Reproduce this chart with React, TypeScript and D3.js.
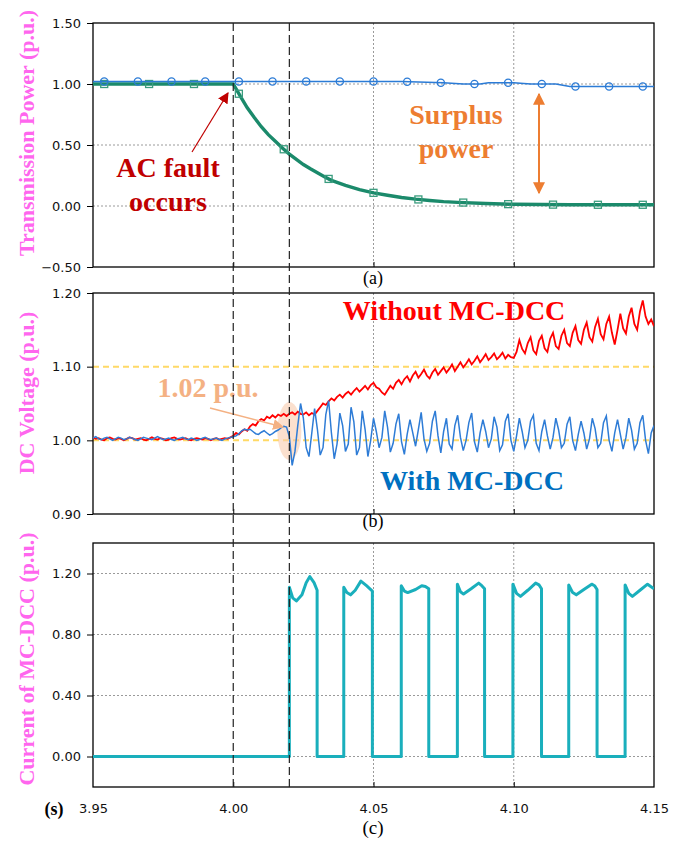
import React, { useEffect, useRef } from 'react';
import * as d3 from 'd3';

// x axis (time, s)
const xTicks = [3.95, 4.0, 4.05, 4.1, 4.15];
const gridTimes = [4.05, 4.1];
const faultTimes = [4.0, 4.02];

// panel (a) transmission power
const powerTicks = [1.5, 1.0, 0.5, 0.0, -0.5];
const powerGrid = [1.0, 0.5, 0.0];
const withPowerT = [3.95, 4.06, 4.075, 4.082, 4.088, 4.091, 4.1, 4.106, 4.115, 4.12, 4.15];
const withPowerV = [1.02, 1.02, 1.01, 1.0, 1.0, 1.01, 1.01, 1.0, 1.0, 0.98, 0.98];
const withoutPowerT = [3.95, 4.0, 4.0025, 4.005, 4.0075, 4.01, 4.0125, 4.015, 4.0175, 4.02, 4.0225, 4.025, 4.0275, 4.03, 4.0325, 4.035, 4.0375, 4.04, 4.045, 4.05, 4.055, 4.06, 4.065, 4.07, 4.075, 4.08, 4.09, 4.1, 4.12, 4.15];
const withoutPowerV = [1.0, 1.0, 0.9, 0.805, 0.725, 0.65, 0.585, 0.53, 0.475, 0.425, 0.382, 0.34, 0.305, 0.272, 0.24, 0.21, 0.19, 0.17, 0.135, 0.108, 0.088, 0.07, 0.056, 0.045, 0.036, 0.03, 0.02, 0.014, 0.01, 0.01];
const circleMarkT = [3.954, 3.966, 3.978, 3.99, 4.002, 4.014, 4.026, 4.038, 4.05, 4.062, 4.074, 4.086, 4.098, 4.11, 4.122, 4.134, 4.146];
const squareMarkT = [3.954, 3.97, 3.986, 4.002, 4.018, 4.034, 4.05, 4.066, 4.082, 4.098, 4.114, 4.13, 4.146];

// panel (b) DC voltage, sampled every 1 ms from 3.950 s
const voltageTicks = [1.2, 1.1, 1.0, 0.9];
const voltageRef = [1.1, 1.0];
const dcStart = 3.95;
const dcStep = 0.001;
const withoutDC = [
  1.004, 1.002, 1.003, 1.001, 1.0, 1.003, 1.004, 1.002, 1.001, 1.003,
  1.002, 1.0, 1.002, 1.004, 1.003, 1.001, 1.002, 1.003, 1.001, 1.0,
  1.002, 1.004, 1.002, 1.001, 1.003, 1.002, 1.0, 1.001, 1.003, 1.004,
  1.002, 1.001, 1.002, 1.003, 1.001, 1.0, 1.002, 1.003, 1.002, 1.001,
  1.003, 1.002, 1.0, 1.002, 1.003, 1.001, 1.002, 1.003, 1.002, 1.004,
  1.006, 1.01, 1.008, 1.012, 1.015, 1.013, 1.019, 1.022, 1.02, 1.026,
  1.029, 1.027, 1.032, 1.03, 1.034, 1.031, 1.035, 1.033, 1.036, 1.033,
  1.036, 1.038, 1.035, 1.039, 1.036, 1.035, 1.038, 1.034, 1.037, 1.035,
  1.04, 1.045, 1.05, 1.048, 1.053, 1.057, 1.054, 1.059, 1.062, 1.058,
  1.063, 1.066, 1.062, 1.067, 1.071, 1.066, 1.07, 1.074, 1.069, 1.075,
  1.078, 1.072, 1.07, 1.065, 1.062, 1.068, 1.074, 1.07, 1.078, 1.082,
  1.076, 1.083, 1.087, 1.08, 1.088, 1.093, 1.085, 1.09, 1.096, 1.088,
  1.084, 1.092, 1.097, 1.089, 1.094, 1.099, 1.092, 1.097, 1.103, 1.094,
  1.1, 1.106, 1.099, 1.104, 1.11, 1.103, 1.108, 1.114, 1.106, 1.111,
  1.117, 1.109, 1.113, 1.118, 1.11, 1.114, 1.119, 1.111, 1.116, 1.113,
  1.112, 1.12, 1.136, 1.124, 1.118, 1.132, 1.14, 1.122, 1.117, 1.135,
  1.142, 1.125, 1.12, 1.138, 1.146, 1.128, 1.124, 1.142, 1.15, 1.132,
  1.128, 1.146, 1.155, 1.136, 1.131, 1.15, 1.16, 1.14, 1.134, 1.154,
  1.165, 1.144, 1.137, 1.158, 1.168, 1.146, 1.13, 1.15, 1.172, 1.152,
  1.145, 1.168, 1.18, 1.158, 1.15, 1.175, 1.19, 1.168, 1.158, 1.164, 1.155,
];
const withDC = [
  1.003, 1.005, 1.002, 1.001, 1.003, 1.004, 1.002, 1.0, 1.002, 1.004,
  1.003, 1.001, 1.002, 1.004, 1.003, 1.001, 1.0, 1.002, 1.004, 1.003,
  1.002, 1.001, 1.003, 1.005, 1.003, 1.001, 1.002, 1.003, 1.001, 1.0,
  1.002, 1.003, 1.004, 1.002, 1.001, 1.003, 1.002, 1.0, 1.001, 1.003,
  1.004, 1.002, 1.001, 1.002, 1.003, 1.001, 1.0, 1.002, 1.003, 1.004,
  1.005, 1.006, 1.009, 1.013, 1.015, 1.014, 1.015, 1.012, 1.009, 1.008,
  1.011, 1.013, 1.01, 1.007, 1.009, 1.012, 1.014, 1.017, 1.019, 1.018,
  1.005, 0.966, 0.985, 1.02, 1.05, 1.03, 0.99, 0.978, 1.01, 1.043,
  1.015, 0.98, 0.99, 1.035, 1.054, 1.01, 0.975, 0.995, 1.037, 1.02,
  0.985, 0.995, 1.045, 1.025, 0.98, 0.99, 1.04, 1.015, 0.978, 1.0,
  1.03, 1.012, 0.99, 1.004, 1.04, 1.018, 0.984, 0.996, 1.022, 1.036,
  0.998, 0.981, 1.008, 1.028, 1.01, 0.992, 1.015, 1.038, 1.002, 0.985,
  0.996, 1.026, 1.04, 1.006, 0.983, 1.012, 1.03, 0.995, 0.988, 1.02,
  1.034, 1.004, 0.986, 1.0, 1.024, 1.037, 0.998, 0.984, 1.01, 1.028,
  1.012, 0.99, 1.002, 1.032, 1.018, 0.986, 0.994, 1.026, 1.036, 1.0,
  0.985, 1.006, 1.03, 1.012, 0.99, 1.0, 1.026, 1.034, 0.996, 0.986,
  1.012, 1.028, 1.006, 0.988, 1.004, 1.03, 1.014, 0.99, 0.996, 1.022,
  1.032, 1.0, 0.986, 1.008, 1.026, 1.01, 0.988, 1.002, 1.03, 1.016,
  0.99, 0.996, 1.024, 1.033, 1.0, 0.985, 1.01, 1.028, 1.008, 0.988,
  1.004, 1.03, 1.014, 0.988, 0.996, 1.024, 1.034, 1.0, 0.982, 1.01, 1.02,
];

// panel (c) MC-DCC current
const currentTicks = [1.2, 0.8, 0.4, 0.0];
const currentT = [
  3.95, 4.02, 4.02, 4.0212, 4.0225, 4.0245, 4.026, 4.0273, 4.0288, 4.0299, 4.0299,
  4.0394, 4.0394, 4.0405, 4.0418, 4.0435, 4.0455, 4.0475, 4.0496, 4.0496,
  4.0599, 4.0599, 4.061, 4.0622, 4.065, 4.0672, 4.0685, 4.0697, 4.0697,
  4.0799, 4.0799, 4.081, 4.0821, 4.0848, 4.0875, 4.0886, 4.0896, 4.0896,
  4.0997, 4.0997, 4.101, 4.1024, 4.105, 4.1078, 4.109, 4.1099, 4.1099,
  4.1196, 4.1196, 4.121, 4.1223, 4.125, 4.1278, 4.1288, 4.1297, 4.1297,
  4.1397, 4.1397, 4.141, 4.1423, 4.145, 4.1477, 4.15,
];
const currentV = [
  0, 0, 1.11, 1.04, 1.02, 1.06, 1.14, 1.18, 1.14, 1.09, 0,
  0, 1.11, 1.075, 1.06, 1.09, 1.15, 1.12, 1.085, 0,
  0, 1.12, 1.085, 1.075, 1.095, 1.12, 1.115, 1.1, 0,
  0, 1.13, 1.08, 1.065, 1.1, 1.137, 1.12, 1.1, 0,
  0, 1.13, 1.07, 1.05, 1.09, 1.137, 1.125, 1.1, 0,
  0, 1.125, 1.075, 1.06, 1.095, 1.13, 1.12, 1.095, 0,
  0, 1.125, 1.07, 1.05, 1.09, 1.13, 1.1,
];

const serif = '"Liberation Serif", "Times New Roman", serif';
const sans = '"DejaVu Sans", Verdana, sans-serif';
const pink = '#FF66EE';

const App = () => {
  const ref = useRef(null);

  useEffect(() => {
    if (!ref.current) return;
    const svg = d3.select(ref.current);
    svg.selectAll('*').remove();

    const left = 93,
      right = 654;
    const x = d3.scaleLinear().domain([3.95, 4.15]).range([left, right]);
    const ya = d3.scaleLinear().domain([-0.5, 1.5]).range([267, 23]);
    const yb = d3.scaleLinear().domain([0.9, 1.2]).range([514, 293]);
    const yc = d3.scaleLinear().domain([-0.2, 1.4]).range([787, 543]);

    const defs = svg.append('defs');
    const arrowHead = (id, color, size) => {
      defs
        .append('marker')
        .attr('id', id)
        .attr('viewBox', '0 0 10 10')
        .attr('refX', 9)
        .attr('refY', 5)
        .attr('markerUnits', 'userSpaceOnUse')
        .attr('markerWidth', size)
        .attr('markerHeight', size)
        .attr('orient', 'auto-start-reverse')
        .append('path')
        .attr('d', 'M0,0L10,5L0,10z')
        .attr('fill', color);
    };
    arrowHead('arrRed', '#C00000', 11);
    arrowHead('arrOrange', '#ED7D31', 12);
    arrowHead('arrPeach', '#F4B183', 11);

    const line = (x1, y1, x2, y2, color, w, dash) => {
      return svg
        .append('line')
        .attr('x1', x1)
        .attr('y1', y1)
        .attr('x2', x2)
        .attr('y2', y2)
        .attr('stroke', color)
        .attr('stroke-width', w)
        .attr('stroke-dasharray', dash || null);
    };

    const text = (tx, ty, str, size, color, bold, family) => {
      return svg
        .append('text')
        .attr('x', tx)
        .attr('y', ty)
        .attr('text-anchor', 'middle')
        .attr('font-family', family || serif)
        .attr('font-size', size)
        .attr('font-weight', bold ? 'bold' : 'normal')
        .attr('fill', color)
        .text(str);
    };

    const panel = (id, y, ticks, hGrid, hColor, hWidth, hDash) => {
      const [bottom, top] = y.range();
      defs
        .append('clipPath')
        .attr('id', id)
        .append('rect')
        .attr('x', left)
        .attr('y', top)
        .attr('width', right - left)
        .attr('height', bottom - top);

      gridTimes.forEach((t) => line(x(t), top, x(t), bottom, '#9a9a9a', 1, '2,2'));
      hGrid.forEach((v) => line(left, y(v), right, y(v), hColor, hWidth, hDash));

      const ax = svg
        .append('g')
        .attr('transform', `translate(${left},0)`)
        .call(d3.axisLeft(y).tickValues(ticks).tickFormat(d3.format('.2f')).tickSize(6).tickPadding(6));
      ax.select('.domain').remove();
      ax.selectAll('text').attr('font-family', sans).attr('font-size', 13).attr('fill', '#111');
      ax.selectAll('line').attr('stroke', '#000');

      const bx = svg
        .append('g')
        .attr('transform', `translate(0,${bottom})`)
        .call(d3.axisBottom(x).tickValues(xTicks.slice(1, 4)).tickSize(-5).tickFormat(() => ''));
      bx.select('.domain').remove();
      bx.selectAll('line').attr('stroke', '#000');

      svg
        .append('rect')
        .attr('x', left)
        .attr('y', top)
        .attr('width', right - left)
        .attr('height', bottom - top)
        .attr('fill', 'none')
        .attr('stroke', '#000')
        .attr('stroke-width', 1.3);
      return svg.append('g').attr('clip-path', `url(#${id})`);
    };

    // ---------- panel (a)
    const ga = panel('clipA', ya, powerTicks, powerGrid, '#9a9a9a', 1, '2,2');
    const greenAt = d3.scaleLinear().domain(withoutPowerT).range(withoutPowerV);
    const blueAt = d3.scaleLinear().domain(withPowerT).range(withPowerV);

    ga.append('path')
      .attr('d', d3.line().x((d, i) => x(withoutPowerT[i])).y((d) => ya(d))(withoutPowerV))
      .attr('fill', 'none')
      .attr('stroke', '#1B8A6B')
      .attr('stroke-width', 3.4);
    ga.selectAll('rect.sq')
      .data(squareMarkT)
      .join('rect')
      .attr('x', (t) => x(t) - 3.5)
      .attr('y', (t) => ya(greenAt(t)) - 3.5)
      .attr('width', 7)
      .attr('height', 7)
      .attr('fill', 'none')
      .attr('stroke', '#3A9C7E')
      .attr('stroke-width', 1.3);

    ga.append('path')
      .attr('d', d3.line().x((d, i) => x(withPowerT[i])).y((d) => ya(d))(withPowerV))
      .attr('fill', 'none')
      .attr('stroke', '#2B7BD6')
      .attr('stroke-width', 1.6);
    ga.selectAll('circle')
      .data(circleMarkT)
      .join('circle')
      .attr('cx', (t) => x(t))
      .attr('cy', (t) => ya(blueAt(t)))
      .attr('r', 3.6)
      .attr('fill', 'none')
      .attr('stroke', '#2B7BD6')
      .attr('stroke-width', 1.3);

    text(168, 177, 'AC fault', 28, '#C00000', true);
    text(168, 211, 'occurs', 28, '#C00000', true);
    line(192, 152, 228, 93, '#C00000', 1.2).attr('marker-end', 'url(#arrRed)');
    text(456, 124, 'Surplus', 28, '#ED7D31', true);
    text(456, 158, 'power', 28, '#ED7D31', true);
    line(539, 94, 539, 193, '#ED7D31', 2)
      .attr('marker-start', 'url(#arrOrange)')
      .attr('marker-end', 'url(#arrOrange)');
    text(373, 284, '(a)', 18, '#000', false);

    // ---------- panel (b)
    const gb = panel('clipB', yb, voltageTicks, voltageRef, '#FFD966', 2, '6,4');
    gb.append('ellipse')
      .attr('cx', x(4.02))
      .attr('cy', 431)
      .attr('rx', 12)
      .attr('ry', 29)
      .attr('fill', '#F8CBAD')
      .attr('opacity', 0.6);

    const dcLine = d3
      .line()
      .x((d, i) => x(dcStart + i * dcStep))
      .y((d) => yb(d));
    gb.append('path')
      .attr('d', dcLine(withoutDC))
      .attr('fill', 'none')
      .attr('stroke', '#FF0000')
      .attr('stroke-width', 1.8);
    gb.append('path')
      .attr('d', dcLine(withDC))
      .attr('fill', 'none')
      .attr('stroke', '#2E7CD6')
      .attr('stroke-width', 1.5);

    text(454, 320, 'Without MC-DCC', 28, '#FF0000', true);
    text(472, 490, 'With MC-DCC', 28, '#0070C0', true);
    text(208, 397, '1.02 p.u.', 28, '#F4B183', true);
    line(210, 408, 283, 427, '#F4B183', 1.5).attr('marker-end', 'url(#arrPeach)');
    text(373, 527, '(b)', 18, '#000', false);

    // ---------- panel (c)
    const gc = panel('clipC', yc, currentTicks, currentTicks, '#9a9a9a', 1, '2,2');
    gc.append('path')
      .attr('d', d3.line().x((d, i) => x(currentT[i])).y((d) => yc(d))(currentV))
      .attr('fill', 'none')
      .attr('stroke', '#1AAFBC')
      .attr('stroke-width', 3)
      .attr('stroke-linejoin', 'round');

    const xa = svg
      .append('g')
      .attr('transform', 'translate(0,787)')
      .call(d3.axisBottom(x).tickValues(xTicks).tickSize(0).tickPadding(17).tickFormat(d3.format('.2f')));
    xa.select('.domain').remove();
    xa.selectAll('text').attr('font-family', sans).attr('font-size', 13).attr('fill', '#111');
    text(54, 815, '(s)', 18, '#000', true);
    text(373, 834, '(c)', 19, '#000', false);

    // fault instants across all panels
    faultTimes.forEach((t) => line(x(t), 23, x(t), 787, '#222', 1.2, '8,4'));

    // y axis titles
    const yTitle = (cy, str) => {
      svg
        .append('text')
        .attr('transform', `translate(34,${cy})rotate(-90)`)
        .attr('text-anchor', 'middle')
        .attr('font-family', serif)
        .attr('font-size', 22)
        .attr('font-weight', 'bold')
        .attr('fill', pink)
        .text(str);
    };
    yTitle(133, 'Transmission Power (p.u.)');
    yTitle(393, 'DC Voltage (p.u.)');
    yTitle(659, 'Current of MC-DCC (p.u.)');
  }, []);

  return (
    <svg
      ref={ref}
      width={687}
      height={843}
      style={{ position: 'absolute', left: 0, top: 0, background: '#fff' }}
    />
  );
};

export default App;
